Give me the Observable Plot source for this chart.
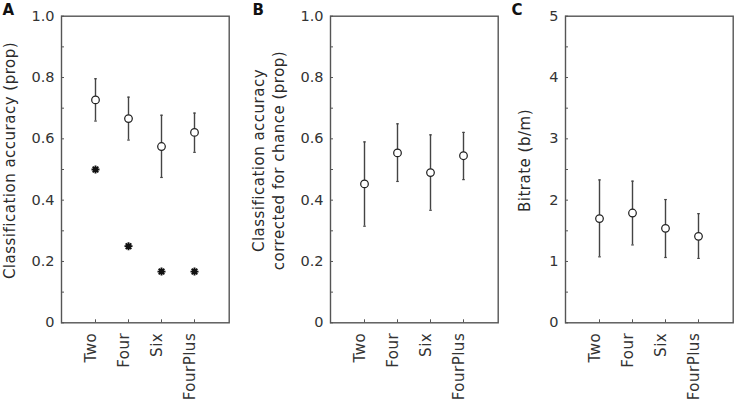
<!DOCTYPE html>
<html>
<head>
<meta charset="utf-8">
<script src="https://cdn.jsdelivr.net/npm/d3@7"></script>
<script src="https://cdn.jsdelivr.net/npm/@observablehq/plot@0.6"></script>
<style>
  html, body { margin: 0; padding: 0; background: #fff; }
  #wrap { position: relative; width: 734px; height: 403px; overflow: hidden; }
  #wrap svg { position: absolute; left: 0; top: 0; }
  g[aria-label="text"] text, g[aria-label="x-axis tick label"] text { letter-spacing: 0.5px; }
</style>
</head>
<body>
<div id="wrap"></div>
<script>
// Conditions (x categories)
const conditions = ["Two", "Four", "Six", "FourPlus"];

// Panel A: classification accuracy (prop)
const accMean = [0.727, 0.666, 0.575, 0.621];
const accLow  = [0.658, 0.596, 0.474, 0.556];
const accHigh = [0.796, 0.736, 0.677, 0.684];
const chance  = [0.5, 0.25, 0.167, 0.167];

// Panel B: classification accuracy corrected for chance (prop)
const corMean = [0.453, 0.554, 0.490, 0.545];
const corLow  = [0.315, 0.461, 0.367, 0.467];
const corHigh = [0.590, 0.649, 0.613, 0.621];

// Panel C: bitrate (b/m)
const bitMean = [1.70, 1.79, 1.54, 1.41];
const bitLow  = [1.076, 1.27, 1.065, 1.05];
const bitHigh = [2.33, 2.31, 2.01, 1.78];

// Axis ticks
const propTicks = [0, 0.2, 0.4, 0.6, 0.8, 1.0];
const propMinor = d3.range(0, 11).map(i => i / 10);
const bitTicks = [0, 1, 2, 3, 4, 5];
const bitMinor = d3.range(0, 11).map(i => i / 2);

const capSymbol = { draw(ctx) { ctx.moveTo(-1.3, 0); ctx.lineTo(1.3, 0); } };
const starSymbol = { draw(ctx) {
  const r = 4, d = r * Math.SQRT1_2;
  ctx.moveTo(-r, 0); ctx.lineTo(r, 0);
  ctx.moveTo(0, -r); ctx.lineTo(0, r);
  ctx.moveTo(-d, -d); ctx.lineTo(d, d);
  ctx.moveTo(-d, d); ctx.lineTo(d, -d);
} };

function rows(mean, lo, hi, extra) {
  return conditions.map((c, i) => ({cond: c, mean: mean[i], lo: lo[i], hi: hi[i], chance: extra ? extra[i] : null}));
}

function panel({data, domain, ticks, minor, fmt, title, ml, mr, titleDx, letter, letterDx, showChance}) {
  const marks = [
    Plot.frame({stroke: "#555", strokeWidth: 1.4}),
    Plot.axisY({ticks: minor, tickSize: -3, text: null, label: null, stroke: "#555"}),
    Plot.axisY({ticks, tickSize: 0, tickPadding: 7, tickFormat: fmt, label: null, fontSize: 14.5, fill: "#333"}),
    Plot.axisX({tickSize: -3, text: null, label: null, stroke: "#555"}),
    Plot.axisX({tickSize: 0, tickPadding: 10, tickRotate: -90, label: null, fontSize: 15, fill: "#333", dx: -4.3}),
    Plot.ruleX(data, {x: "cond", y1: "lo", y2: "hi", stroke: "#444", strokeWidth: 1.4}),
    Plot.dot(data, {x: "cond", y: "lo", symbol: capSymbol, stroke: "#444", strokeWidth: 1.2}),
    Plot.dot(data, {x: "cond", y: "hi", symbol: capSymbol, stroke: "#444", strokeWidth: 1.2}),
    Plot.dot(data, {x: "cond", y: "mean", r: 3.8, fill: "white", stroke: "#222", strokeWidth: 1.25}),
    Plot.text([title], {text: d => d, frameAnchor: "left", rotate: -90, dx: titleDx, dy: -9, lineAnchor: "bottom", textAnchor: "middle", fontSize: 15, lineHeight: 1.33, fill: "#2a2a2a"}),
    Plot.text([letter], {text: d => d, frameAnchor: "top-left", dx: letterDx, dy: -1.5, lineAnchor: "bottom", textAnchor: "start", fontSize: 15, fontWeight: "bold", fill: "#111"})
  ];
  if (showChance) {
    marks.push(Plot.dot(data, {x: "cond", y: "chance", symbol: starSymbol, stroke: "#111", strokeWidth: 1.9}));
  }
  return Plot.plot({
    width: 734, height: 403,
    marginLeft: ml, marginRight: mr, marginTop: 15.7, marginBottom: 80.7,
    style: {fontFamily: "DejaVu Sans", background: "transparent", color: "#333", overflow: "visible"},
    x: {type: "point", domain: conditions, padding: 1},
    y: {domain},
    marks
  });
}

const fmtProp = d => d === 0 ? "0" : d3.format(".1f")(d);
const fmtInt = d => d3.format("d")(d);

const wrap = document.getElementById("wrap");
wrap.append(panel({
  data: rows(accMean, accLow, accHigh, chance), domain: [0, 1], ticks: propTicks, minor: propMinor, fmt: fmtProp,
  title: "Classification accuracy (prop)", ml: 61, mr: 734 - 228.7, titleDx: -47, letter: "A", letterDx: -59, showChance: true
}));
wrap.append(panel({
  data: rows(corMean, corLow, corHigh), domain: [0, 1], ticks: propTicks, minor: propMinor, fmt: fmtProp,
  title: "Classification accuracy\ncorrected for chance (prop)", ml: 330, mr: 734 - 497.7, titleDx: -47, letter: "B", letterDx: -78, showChance: false
}));
wrap.append(panel({
  data: rows(bitMean, bitLow, bitHigh), domain: [0, 5], ticks: bitTicks, minor: bitMinor, fmt: fmtInt,
  title: "Bitrate (b/m)", ml: 565, mr: 734 - 732.7, titleDx: -36, letter: "C", letterDx: -54, showChance: false
}));
</script>
</body>
</html>
